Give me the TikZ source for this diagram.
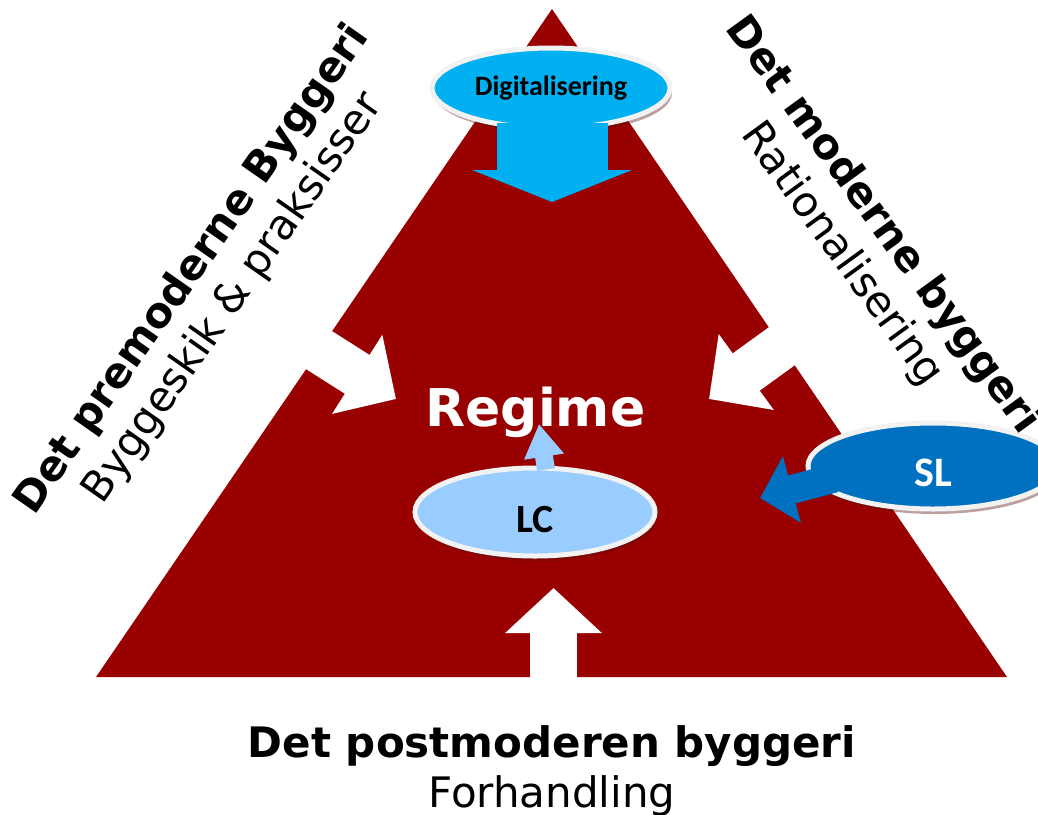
\documentclass[tikz,border=0pt]{standalone}
\usepackage{fontspec}
\setmainfont{DejaVu Sans}
\newfontfamily\calibri{Carlito}
\usetikzlibrary{arrows.meta,shapes.geometric,shadows}
\definecolor{regimered}{HTML}{990000}
\definecolor{digiblue}{HTML}{00B0F0}
\definecolor{lcblue}{HTML}{99CCFF}
\definecolor{slblue}{HTML}{0070C0}
\definecolor{rim}{HTML}{F2F2F2}
\definecolor{shade}{HTML}{5A1010}

\tikzset{
  bubble/.style={ellipse, draw=rim, line width=5pt, inner sep=0pt,
    drop shadow={shadow xshift=2pt, shadow yshift=-5pt, opacity=0.4, fill=shade}},
  push/.style={draw=white, line width=46pt, -{Triangle[length=46pt, width=91pt]}},
  side/.style={align=center, inner sep=0pt, font=\fontsize{42}{50}\selectfont},
}

\begin{document}
\begin{tikzpicture}[x=1pt, y=-1pt]
  \useasboundingbox (0,0) rectangle (1038,814);

  % the regime triangle
  \fill[regimered] (552,9) -- (1007,677) -- (96,677) -- cycle;

  % white pushes from the three sides
  \coordinate (leftfoot) at (311,345);
  \coordinate (lefttip) at (396,399);
  \coordinate (rightfoot) at (789,341);
  \coordinate (righttip) at (709,399);
  \coordinate (basefoot) at (553.5,684);
  \coordinate (basetip) at (553.5,588);
  \draw[push] (leftfoot) -- (lefttip);
  \draw[push] (rightfoot) -- (righttip);
  \draw[draw=white, line width=47pt, -{Triangle[length=45pt, width=94pt]}] (basefoot) -- (basetip);

  \node[anchor=base, text=white, inner sep=0pt, font=\fontsize{52}{60}\selectfont\bfseries] (regime) at (535.5,426) {Regime};

  % the three bubbles
  \node[bubble, fill=digiblue, minimum width=238pt, minimum height=80pt,
        font=\calibri\bfseries\fontsize{28}{34}\selectfont] (digi) at (551,88) {Digitalisering};
  \node[bubble, fill=lcblue, minimum width=240pt, minimum height=88pt,
        font=\calibri\bfseries\fontsize{40}{48}\selectfont] (lc) at (535,512) {\raisebox{-8pt}[\height][\depth]{LC}};
  \node[bubble, fill=slblue, text=white, minimum width=250pt, minimum height=86pt,
        font=\calibri\bfseries\fontsize{42}{50}\selectfont] (sl) at (933,466) {\raisebox{-7pt}[\height][\depth]{SL}};

  % arrows out of the bubbles
  \coordinate (digitip) at (552,202);
  \coordinate (sltip) at (760,498);
  \draw[digiblue, line width=111pt, -{Triangle[length=32pt, width=159pt]}]
    ([xshift=1pt, yshift=8pt]digi.south) -- (digitip);
  \draw[lcblue, line width=18pt, -{Triangle[length=33pt, width=38pt]}]
    ([xshift=11pt, yshift=-4pt]lc.north) -- ([xshift=3.5pt, yshift=2pt]regime.base);
  \draw[slblue, line width=29pt, -{Triangle[length=33pt, width=67pt]}]
    ([xshift=29pt, yshift=-12pt]sl.west) -- (sltip);

  % the three building regimes
  \node[side, rotate=55] (premoderne) at (213,284) {\textbf{Det premoderne Byggeri}\\Byggeskik \& praksisser};
  \node[side, rotate=-54] (moderne) at (862,240) {\textbf{Det moderne byggeri}\\Rationalisering};
  \node[side] (postmoderne) at (552,771) {\textbf{Det postmoderen byggeri}\\Forhandling};
\end{tikzpicture}
\end{document}
